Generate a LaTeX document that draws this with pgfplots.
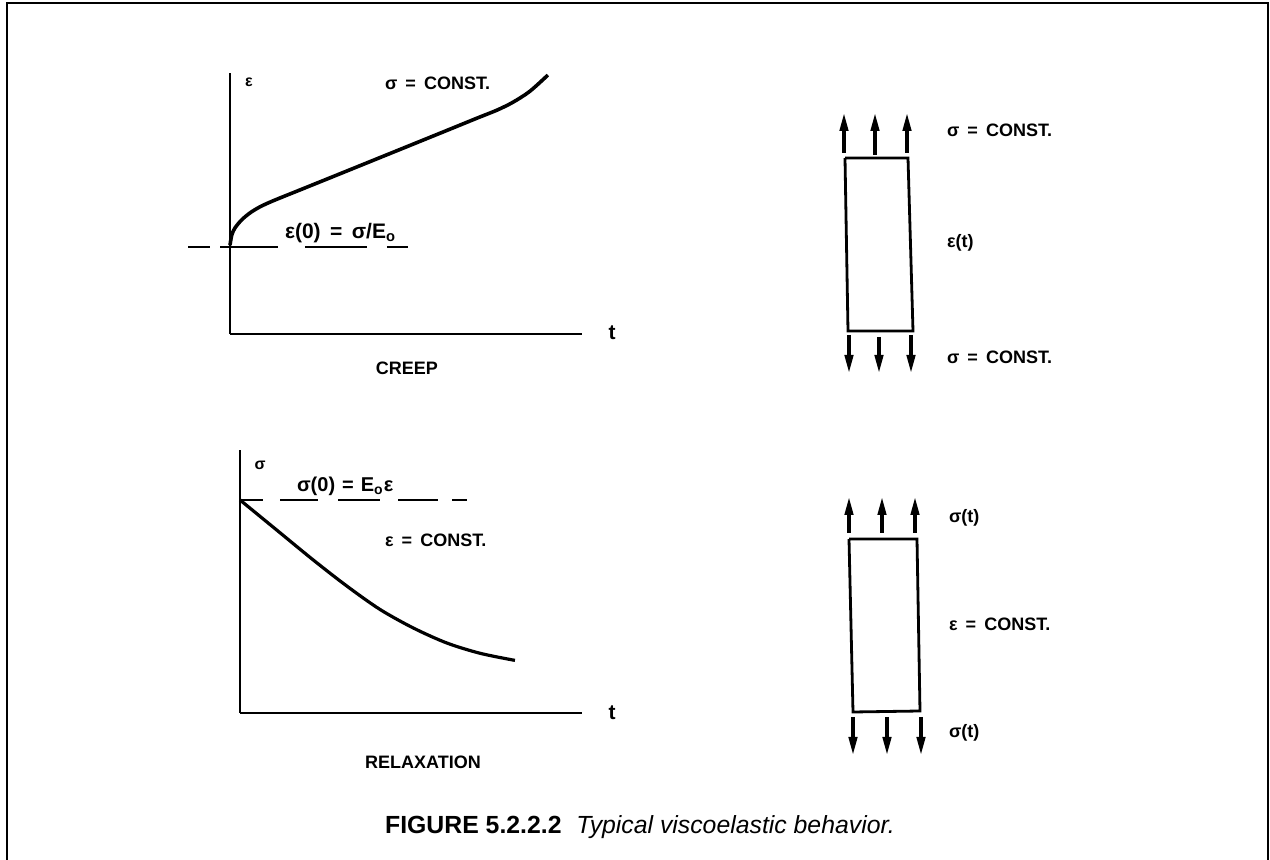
\documentclass[border=0pt]{standalone}
\usepackage{pgfplots}
\pgfplotsset{compat=1.18}
\usetikzlibrary{arrows.meta}
\usepackage{fontspec}
\setmainfont{Liberation Sans}

% label fonts
\newcommand{\lab}{\fontsize{9}{10}\selectfont\bfseries}
\newcommand{\biglab}{\fontsize{10.5}{12}\selectfont\bfseries}
\newcommand{\eq}{\hspace{0.45em}=\hspace{0.45em}}
\newcommand{\Eo}{E\textsubscript{o}}

\begin{document}
\begin{tikzpicture}
% page in pixel units (1 px = 0.5pt), y downwards
\begin{axis}[
  at={(0,0)}, anchor=south west,
  scale only axis, width=635pt, height=430pt,
  xmin=0, xmax=1270, ymin=0, ymax=860, y dir=reverse,
  hide axis, clip=false,
  every node/.style={inner sep=0pt},
]
% frame
\addplot[line width=1.25pt, black, mark=none] coordinates {(7,860) (7,3) (1268,3) (1268,860)};

% specimen under creep
\addplot[line width=1.4pt, black, mark=none] coordinates {(845,158) (908,158) (913,331) (848,331) (845,158)};
\addplot[line width=1.6pt, black, -{Triangle[length=9pt,width=4.2pt]},
  quiver={u=\thisrow{u}, v=\thisrow{v}}] table {
x   y   u  v
844 153 0 -40
875 155 0 -42
907 153 0 -40
849 335 0  38
879 337 0  36
911 335 0  38
};
% specimen under relaxation
\addplot[line width=1.4pt, black, mark=none] coordinates {(849,539) (917,539) (920,711) (853,712) (849,539)};
\addplot[line width=1.6pt, black, -{Triangle[length=9pt,width=4.2pt]},
  quiver={u=\thisrow{u}, v=\thisrow{v}}] table {
x   y   u  v
849 533 0 -36
882 533 0 -36
915 533 0 -36
853 717 0  38
887 717 0  38
921 717 0  38
};

% labels, creep graph
\node at (axis cs:249,82) {\fontsize{8}{9}\selectfont\bfseries ε};
\node[anchor=west] at (axis cs:378,83) {\lab σ\eq CONST.};
\node[anchor=west] at (axis cs:278,233) {\biglab ε(0)\eq σ/\Eo};
\node at (axis cs:612,333) {\biglab t};
\node at (axis cs:407,368) {\lab CREEP};
% labels, relaxation graph
\node at (axis cs:260,465) {\fontsize{8}{9}\selectfont\bfseries σ};
\node[anchor=west] at (axis cs:290,486) {\fontsize{10}{12}\selectfont\bfseries σ(0)\hspace{0.35em}=\hspace{0.35em}\Eo ε};
\node[anchor=west] at (axis cs:378,540) {\lab ε\eq CONST.};
\node at (axis cs:612,713) {\biglab t};
\node at (axis cs:423,762) {\lab RELAXATION};
% labels, specimens
\node[anchor=west] at (axis cs:940,130) {\lab σ\eq CONST.};
\node[anchor=west] at (axis cs:940,243) {\lab ε(t)};
\node[anchor=west] at (axis cs:940,357) {\lab σ\eq CONST.};
\node[anchor=west] at (axis cs:942,518) {\lab σ(t)};
\node[anchor=west] at (axis cs:942,624) {\lab ε\eq CONST.};
\node[anchor=west] at (axis cs:942,733) {\lab σ(t)};
% caption
\node at (axis cs:640,827) {\fontsize{12.4}{14}\selectfont\textbf{FIGURE 5.2.2.2}\hspace{0.6em}\textit{Typical viscoelastic behavior.}};
\end{axis}

% creep: strain against time at constant stress
\begin{axis}[
  at={(115pt,263pt)}, anchor=south west,
  scale only axis, width=176pt, height=130.5pt,
  xmin=0, xmax=10, ymin=0, ymax=10,
  axis lines=left, axis line style={line width=1.45pt, -},
  ticks=none, clip=false, unbounded coords=jump,
]
\addplot[line width=1.8pt, black, mark=none, smooth, tension=0.5] coordinates {
  (0,3.4) (0.05,3.79) (0.14,4.06) (0.33,4.37) (0.57,4.64) (0.85,4.87) (1.22,5.10)
  (1.99,5.52) (3.0,6.07) (4.83,7.07) (6.2,7.82) (7.0,8.26) (7.59,8.58)
  (8.04,8.88) (8.52,9.30) (9.03,9.92)
};
\addplot[line width=1pt, black, mark=none] coordinates {
  (-1.19,3.33) (-0.57,3.33) (-0.4,nan) (-0.28,3.33) (1.36,3.33) (1.6,nan)
  (2.13,3.33) (3.89,3.33) (4.1,nan) (4.46,3.33) (5.06,3.33)
};
\end{axis}

% relaxation: stress against time at constant strain
\begin{axis}[
  at={(120pt,73.5pt)}, anchor=south west,
  scale only axis, width=171pt, height=131.5pt,
  xmin=0, xmax=10, ymin=0, ymax=10,
  axis lines=left, axis line style={line width=1.45pt, -},
  ticks=none, clip=false, unbounded coords=jump,
]
\addplot[line width=1.6pt, black, mark=none, smooth, tension=0.5] coordinates {
  (0,8.1) (1.07,6.96) (2.14,5.82) (3.12,4.83) (4.09,3.94) (5.07,3.23)
  (6.05,2.66) (7.02,2.27) (8.04,2.0)
};
\addplot[line width=1pt, black, mark=none] coordinates {
  (0,8.1) (0.67,8.1) (0.9,nan) (1.17,8.1) (2.28,8.1) (2.5,nan)
  (2.87,8.1) (4.09,8.1) (4.3,nan) (4.62,8.1) (5.79,8.1) (6.0,nan)
  (6.20,8.1) (6.64,8.1)
};
\end{axis}

\pgfresetboundingbox
\path[use as bounding box] (0,0) rectangle (635pt,430pt);
\end{tikzpicture}
\end{document}
